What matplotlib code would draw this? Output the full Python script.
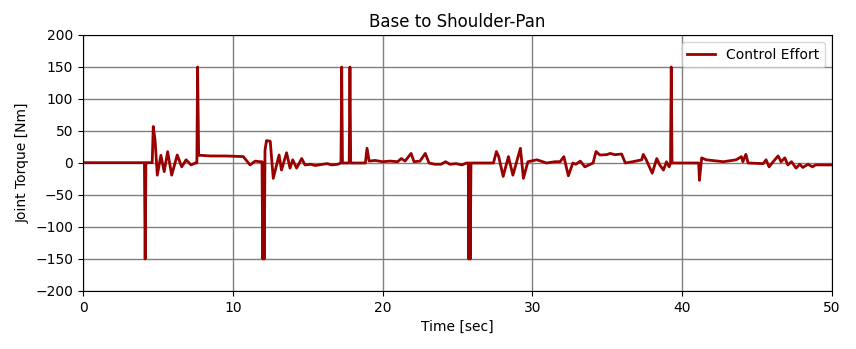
import matplotlib
matplotlib.use("Agg")
import matplotlib.pyplot as plt

# time stamps [sec] and control torque [Nm]
t_sec = [0.0, 4.10, 4.15, 4.20, 4.62, 4.69, 4.81, 4.96, 5.20, 5.42, 5.65, 5.92,
         6.29, 6.59, 6.88, 7.21, 7.50, 7.60, 7.65, 7.72, 7.85, 8.5, 9.5, 10.7,
         11.15, 11.5, 11.8, 11.95, 12.0, 12.05, 12.1, 12.15, 12.25, 12.5, 12.7,
         13.09, 13.25, 13.59, 13.82, 14.0, 14.26, 14.6, 14.82, 15.2, 15.5, 16.0,
         16.3, 16.6, 17.0, 17.22, 17.27, 17.32, 17.77, 17.82, 17.87, 18.85, 18.96,
         19.1, 19.5, 20.0, 20.5, 21.0, 21.25, 21.5, 21.9, 22.1, 22.5, 22.85, 23.1,
         23.5, 23.9, 24.2, 24.5, 24.9, 25.3, 25.6, 25.72, 25.75, 25.8, 25.85, 25.9,
         27.4, 27.6, 27.75, 28.05, 28.4, 28.7, 29.2, 29.4, 29.7, 30.3, 30.95, 31.5,
         31.85, 32.1, 32.4, 32.7, 32.9, 33.2, 33.5, 34.05, 34.25, 34.5, 34.95, 35.2,
         35.5, 35.96, 36.2, 36.7, 37.3, 37.4, 37.6, 38.0, 38.3, 38.5, 38.75, 38.95,
         39.13, 39.22, 39.27, 39.32, 41.1, 41.15, 41.3, 41.6, 42.75, 43.6, 43.75,
         43.95, 44.05, 44.25, 44.4, 45.4, 45.6, 45.8, 46.0, 46.4, 46.6, 46.85, 47.05,
         47.3, 47.6, 47.85, 48.05, 48.4, 48.7, 48.9, 50.0]
torque_nm = [0.5, 0.5, -150, 0.5, 0.5, 57, 36, -19, 12, -13.5, 17.7, -19,
             12.5, -6, 5, -3, 0, 0, 150, 12, 12, 11, 11, 10,
             -3, 3, 2, 2, -150, 0, -150, 20, 35, 34, -24,
             12.5, -11, 16, -8, 5, -8, 7, -3, -2, -4, -2,
             -1, -3, -2, 0, 150, 0, 0, 150, 0, 0, 23,
             3, 4, 2, 3, 2, 7, 3, 15, 2, 3, 15, 0,
             -2, -2, 2, -2, -1, -3, 0, 0, -150, 0, -150, 0,
             0, 18, 10, -21, 10, -19, 23, -24, 2, 5, 0, 2,
             2, 10, -20, 0, -2, 3, -6, 0, 18, 12.5, 13, 15,
             13, 14, 0, 2, 5, 13.5, 5, -16, 7, -3, -11, 2,
             -6, 0, 150, 0, 0, -27, 8, 5, 2, 5, 7,
             10, 2, 13.5, 0, -1, 5, -6, 0, 11, 2, 8, -3,
             2, -8, -2, -7, -2, -6, -3, -3]

fig = plt.figure(figsize=(8.56, 3.49), dpi=100)
ax = fig.add_axes([83/856, 1-291/349, (832-83)/856, (291-35)/349])

ax.plot(t_sec, torque_nm, color="#990000", linewidth=2, label="Control Effort")

ax.set_xlim(0, 50)
ax.set_ylim(-200, 200)
ax.set_xticks(range(0, 51, 10))
ax.set_yticks(range(-200, 201, 50))
ax.grid(True, color="gray", linestyle="-", linewidth=1)
ax.set_axisbelow(True)
ax.tick_params(labelsize=10)

ax.set_title("Base to Shoulder-Pan", fontsize=12)
ax.set_xlabel("Time [sec]", fontsize=10)
ax.set_ylabel("Joint Torque [Nm]", fontsize=10)
ax.legend(loc="upper right", fontsize=10)

fig.savefig("out.png", dpi=100)
